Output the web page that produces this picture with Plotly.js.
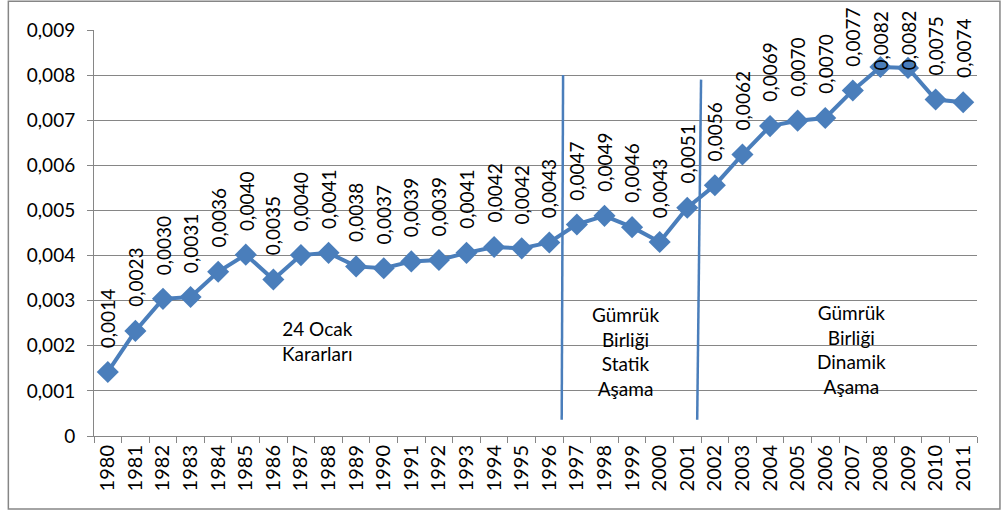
<!DOCTYPE html>
<html><head><meta charset="utf-8">
<script src="https://cdn.plot.ly/plotly-3.0.1.min.js"></script>
<style>html,body{margin:0;padding:0;background:#fff}#chart{width:1006px;height:514px}</style>
</head><body><div id="chart"></div>
<script>
const years = ["1980","1981","1982","1983","1984","1985","1986","1987","1988","1989","1990","1991","1992","1993","1994","1995","1996","1997","1998","1999","2000","2001","2002","2003","2004","2005","2006","2007","2008","2009","2010","2011"];
const values = [0.00142,0.00233,0.00304,0.00308,0.00364,0.00402,0.00347,0.00401,0.00406,0.00376,0.00372,0.00387,0.00390,0.00406,0.00419,0.00416,0.00429,0.00469,0.00488,0.00463,0.00430,0.00506,0.00556,0.00624,0.00687,0.00699,0.00705,0.00766,0.00818,0.00816,0.00746,0.00740];
const yTickVals = [0,0.001,0.002,0.003,0.004,0.005,0.006,0.007,0.008,0.009];
const yTickText = ["0","0,001","0,002","0,003","0,004","0,005","0,006","0,007","0,008","0,009"];
const periodLabels = ["24 Ocak<br>Kararları","Gümrük<br>Birliği<br>Statik<br>Aşama","Gümrük<br>Birliği<br>Dinamik<br>Aşama"];

const BLUE = "#4a7ebb";
const FONT = "Lato, 'Noto Sans', sans-serif";
const FS = 19;

const trace = {
  x: years, y: values, type: "scatter", mode: "lines+markers",
  line: {color: BLUE, width: 4},
  marker: {symbol: "diamond", size: 17, color: BLUE},
  hoverinfo: "skip"
};

const annotations = years.map((yr, i) => {
  const a = {
    x: i, xref: "x", text: values[i].toFixed(4).replace(".", ","),
    textangle: -90, showarrow: false, xanchor: "center",
    font: {family: FONT, size: FS, color: "#000"}
  };
  if (values[i] > 0.008) {
    // labels that would leave the chart are pushed down to fit, as in the original
    Object.assign(a, {y: 1.05, yref: "paper", yanchor: "top"});
  } else {
    Object.assign(a, {y: values[i], yref: "y", yanchor: "bottom", yshift: 22});
  }
  return a;
});
annotations.push(
  {x: 7.6, y: 0.00211, xref: "x", yref: "y", text: periodLabels[0], showarrow: false,
   font: {family: FONT, size: FS, color: "#000"}, align: "center"},
  {x: 18.75, y: 0.00188, xref: "x", yref: "y", text: periodLabels[1], showarrow: false,
   font: {family: FONT, size: FS, color: "#000"}, align: "center"},
  {x: 26.95, y: 0.00191, xref: "x", yref: "y", text: periodLabels[2], showarrow: false,
   font: {family: FONT, size: FS, color: "#000"}, align: "center"}
);

const layout = {
  width: 1006, height: 514,
  margin: {l: 94, r: 29, t: 30, b: 78},
  paper_bgcolor: "#fff", plot_bgcolor: "#fff",
  showlegend: false,
  font: {family: FONT, size: FS, color: "#000"},
  xaxis: {
    type: "category", range: [-0.5, 31.5],
    tickangle: -90, ticks: "outside", ticklen: 6, tickcolor: "#868686",
    tickson: "boundaries", showgrid: false,
    showline: true, linecolor: "#868686", linewidth: 1,
    tickfont: {family: FONT, size: FS + 1, color: "#000"},
    zeroline: false, fixedrange: true
  },
  yaxis: {
    range: [0, 0.009], tickvals: yTickVals, ticktext: yTickText,
    ticks: "outside", ticklen: 6, tickcolor: "#868686",
    showgrid: true, gridcolor: "#868686", gridwidth: 1,
    showline: true, linecolor: "#868686", linewidth: 1,
    zeroline: false, ticklabelstandoff: 8,
    tickfont: {family: FONT, size: FS, color: "#000"}, fixedrange: true
  },
  shapes: [
    {type: "line", xref: "x", yref: "y", x0: 16.5, x1: 16.45, y0: 0.0080, y1: 0.00036,
     line: {color: BLUE, width: 2.5}},
    {type: "line", xref: "x", yref: "y", x0: 21.5, x1: 21.36, y0: 0.0079, y1: 0.00036,
     line: {color: BLUE, width: 2.5}},
    {type: "rect", xref: "paper", yref: "paper", x0: -0.097, x1: 1.026, y0: -0.18, y1: 1.071,
     line: {color: "#868686", width: 1.5}, fillcolor: "rgba(0,0,0,0)", layer: "below"}
  ],
  annotations: annotations
};

Plotly.newPlot("chart", [trace], layout, {displayModeBar: false, staticPlot: true});
</script></body></html>
